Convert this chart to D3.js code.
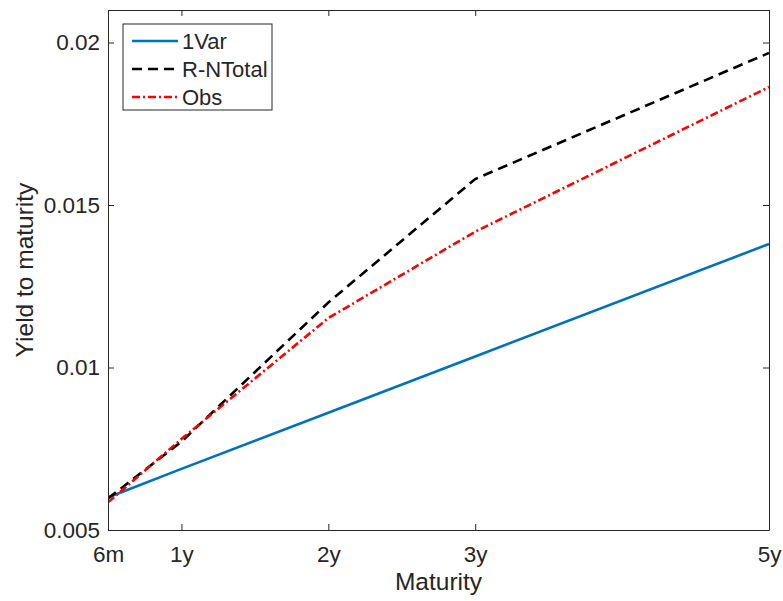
<!DOCTYPE html>
<html><head><meta charset="utf-8">
<script src="https://cdn.jsdelivr.net/npm/d3@7"></script>
<style>body{margin:0;background:#fff}svg{display:block}text{font-family:"Liberation Sans",Arial,sans-serif;fill:#262626}</style>
</head><body><svg id="c" width="783" height="601"></svg>
<script>
const maturities = [0.5, 1, 2, 3, 5];
const tickLabels = ["6m", "1y", "2y", "3y", "5y"];
const yTicks = [0.005, 0.01, 0.015, 0.02];
const yTickLabels = ["0.005", "0.01", "0.015", "0.02"];
const var1 = [0.00600, 0.00688, 0.00861, 0.01034, 0.01380];
const rnTotal = [0.00597, 0.00772, 0.01200, 0.01580, 0.01968];
const obs = [0.00585, 0.00780, 0.01152, 0.01418, 0.01863];
const seriesNames = ["1Var", "R-NTotal", "Obs"];

const svg = d3.select("#c");
const L = 108, R = 769, T = 10, B = 530;
const x = d3.scaleLinear().domain([0.5, 5]).range([L, R]);
const y = d3.scaleLinear().domain([0.005, 0.021]).range([B, T]);

const series = [
  {name: seriesNames[0], vals: var1, color: "#0072BD", dash: null},
  {name: seriesNames[1], vals: rnTotal, color: "#000000", dash: "10,6"},
  {name: seriesNames[2], vals: obs, color: "#FF0000", dash: "8,3,2,3"}
];

const line = d3.line().x(d => x(d[0])).y(d => y(d[1]));
const plot = svg.append("g");
plot.append("defs").append("clipPath").attr("id","clip").append("rect")
  .attr("x", L).attr("y", T).attr("width", R-L).attr("height", B-T);
series.forEach(s => {
  plot.append("path").attr("clip-path","url(#clip)")
    .datum(maturities.map((m,i)=>[m, s.vals[i]]))
    .attr("d", line).attr("fill","none").attr("stroke", s.color)
    .attr("stroke-width", 2.6).attr("stroke-dasharray", s.dash);
});

// axes
const ax = "#262626";
const tl = 6;
const xb = svg.append("g").attr("transform",`translate(0,${B})`)
  .call(d3.axisBottom(x).tickValues(maturities).tickFormat((d,i)=>tickLabels[i]).tickSizeInner(-tl).tickSizeOuter(0).tickPadding(16));
const xt = svg.append("g").attr("transform",`translate(0,${T})`)
  .call(d3.axisTop(x).tickValues(maturities).tickFormat("").tickSizeInner(-tl).tickSizeOuter(0));
const yl = svg.append("g").attr("transform",`translate(${L},0)`)
  .call(d3.axisLeft(y).tickValues(yTicks).tickFormat((d,i)=>yTickLabels[i]).tickSizeInner(-tl).tickSizeOuter(0).tickPadding(8));
const yr = svg.append("g").attr("transform",`translate(${R},0)`)
  .call(d3.axisRight(y).tickValues(yTicks).tickFormat("").tickSizeInner(-tl).tickSizeOuter(0));
[xb,xt,yl,yr].forEach(g=>{
  g.selectAll("path.domain").attr("stroke", ax).attr("stroke-width",1);
  g.selectAll("line").attr("stroke", ax).attr("stroke-width",1);
  g.selectAll("text").attr("font-size","22.5px").attr("fill", ax).style("font-family","'Liberation Sans',Arial,sans-serif");
});

svg.append("text").attr("x", (L+R)/2).attr("y", 590).attr("text-anchor","middle")
  .attr("font-size","24.5px").text("Maturity");
svg.append("text").attr("transform",`translate(33,${(T+B)/2}) rotate(-90)`).attr("text-anchor","middle")
  .attr("font-size","24.5px").text("Yield to maturity");

// legend
const lg = svg.append("g");
lg.append("rect").attr("x",123).attr("y",24).attr("width",149).attr("height",86)
  .attr("fill","#fff").attr("stroke","#262626").attr("stroke-width",1);
series.forEach((s,i)=>{
  const yy = 41 + i*28;
  lg.append("line").attr("x1",132).attr("x2",178).attr("y1",yy).attr("y2",yy)
    .attr("stroke",s.color).attr("stroke-width",2.6).attr("stroke-dasharray",s.dash);
  lg.append("text").attr("x",182).attr("y",yy+7.5).attr("font-size","22px").attr("fill","#000").text(s.name);
});
</script></body></html>
